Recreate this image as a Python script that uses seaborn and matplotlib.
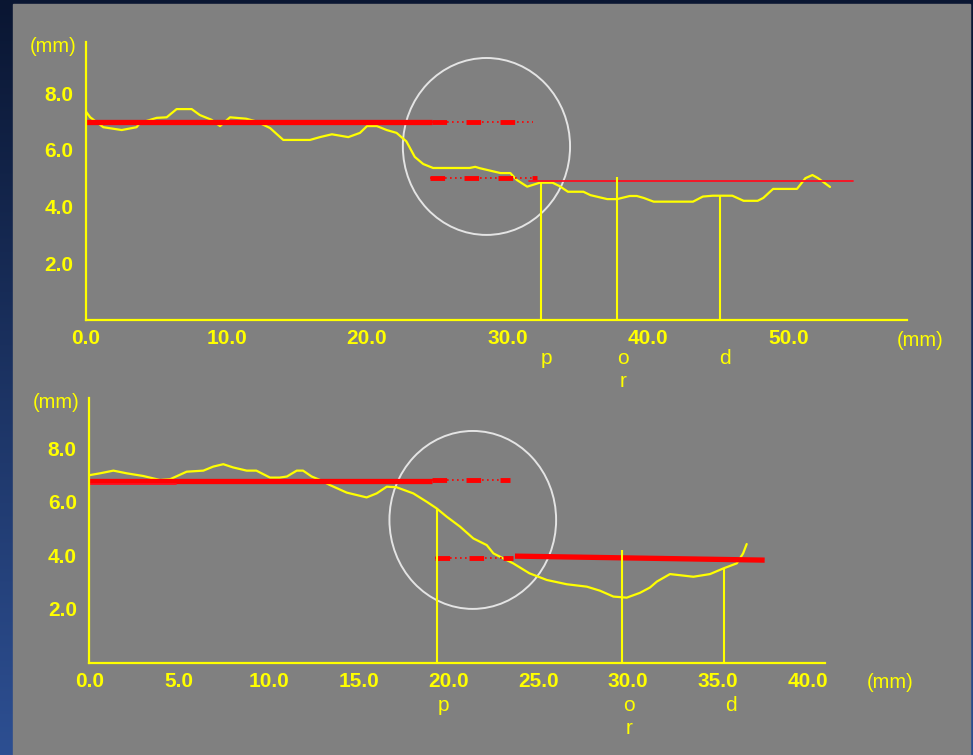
import numpy as np
import pandas as pd
import matplotlib
matplotlib.use("Agg")
import matplotlib.pyplot as plt
from matplotlib.patches import Ellipse, Rectangle
import seaborn as sns

# perfil superior (mm)
top_x = [0.0, 0.3, 1.23, 2.54, 3.6, 3.84, 5.03, 5.74, 6.45, 7.52, 8.1, 8.94, 9.54,
         10.25, 11.4, 12.15, 13.1, 14.04, 15.94, 16.65, 17.5, 18.67, 19.5, 20.0,
         20.7, 21.4, 22.1, 22.8, 23.4, 24.0, 24.7, 27.3, 27.7, 28.04, 29.5, 30.2,
         30.65, 31.4, 32.3, 33.2, 33.7, 34.3, 35.4, 35.9, 37.1, 37.8, 38.7, 39.2,
         39.7, 40.4, 43.2, 43.9, 44.6, 46.0, 46.8, 47.8, 48.2, 48.9, 50.6, 51.2,
         51.7, 52.1, 52.95]
top_y = [7.35, 7.15, 6.8, 6.7, 6.8, 6.95, 7.13, 7.15, 7.44, 7.44, 7.23, 7.06, 6.84,
         7.15, 7.1, 7.0, 6.77, 6.35, 6.35, 6.45, 6.55, 6.45, 6.6, 6.84, 6.84, 6.7,
         6.6, 6.3, 5.75, 5.5, 5.36, 5.36, 5.4, 5.35, 5.18, 5.18, 4.94, 4.7, 4.84,
         4.84, 4.72, 4.52, 4.52, 4.4, 4.26, 4.26, 4.37, 4.37, 4.3, 4.17, 4.17, 4.35,
         4.38, 4.38, 4.2, 4.2, 4.3, 4.62, 4.62, 5.0, 5.11, 5.0, 4.69]

# perfil inferior (mm)
bot_x = [0.0, 0.6, 1.34, 2.08, 3.0, 3.94, 4.5, 5.42, 6.35, 6.9, 7.46, 8.0, 8.76,
         9.3, 10.06, 10.6, 11.0, 11.55, 11.9, 12.38, 12.85, 13.4, 14.33, 15.44,
         16.0, 16.56, 17.1, 18.04, 18.78, 19.34, 19.9, 20.64, 21.38, 22.13, 22.5,
         23.6, 24.5, 25.47, 26.58, 27.7, 28.43, 29.18, 29.92, 30.66, 31.22, 31.6,
         32.33, 33.63, 34.56, 35.3, 36.05, 36.4, 36.6]
bot_y = [6.99, 7.06, 7.16, 7.06, 6.96, 6.81, 6.84, 7.12, 7.16, 7.31, 7.4, 7.28,
         7.16, 7.16, 6.9, 6.9, 6.94, 7.16, 7.16, 6.94, 6.81, 6.62, 6.34, 6.16,
         6.31, 6.56, 6.54, 6.31, 6.0, 5.75, 5.44, 5.07, 4.63, 4.38, 4.07, 3.7,
         3.33, 3.08, 2.92, 2.83, 2.68, 2.46, 2.42, 2.6, 2.8, 3.02, 3.3, 3.2, 3.3,
         3.51, 3.7, 4.07, 4.42]

# marcadores p, r, d: posicion x y altura de la linea vertical
top_marks = ["p", "o\nr", "d"]
top_mark_x = [32.4, 37.8, 45.1]
top_mark_h = [4.84, 5.04, 4.38]
bot_marks = ["p", "o\nr", "d"]
bot_mark_x = [19.34, 29.64, 35.34]
bot_mark_h = [5.75, 4.2, 3.53]

# lineas de referencia rojas: (x0, x1, y0, y1)
top_solid = [(0.0, 24.6, 7.0, 7.0)]
top_dashed = [(24.6, 31.8, 7.0, 7.0), (24.5, 32.1, 5.0, 5.0)]
top_thin = [(31.5, 54.6, 4.9, 4.9)]
bot_solid = [(0.0, 19.1, 6.77, 6.77), (23.7, 37.6, 3.97, 3.82)]
bot_dashed = [(19.1, 23.4, 6.8, 6.8), (19.25, 23.6, 3.91, 3.91)]
bot_thin = [(0.0, 4.8, 6.66, 6.66)]

# circulos (centro x, centro y, ancho, alto) en mm
top_circle = (28.5, 6.12, 11.9, 6.25)
bot_circle = (21.35, 5.32, 9.28, 6.64)

YELLOW = "#ffff00"
RED = "#ff0000"
GRAY = "#808080"

sns.set_theme(style="white")
plt.rcParams["font.family"] = ["Liberation Sans", "DejaVu Sans"]

W, H = 973, 755
fig = plt.figure(figsize=(W / 100, H / 100), dpi=100)

# fondo azul con degradado y panel gris
bg = fig.add_axes([0, 0, 1, 1], zorder=-10)
grad = np.linspace(0, 1, 256).reshape(-1, 1)
cmap = matplotlib.colors.LinearSegmentedColormap.from_list("bg", ["#0a1632", "#2d4f92"])
bg.imshow(grad, aspect="auto", cmap=cmap, extent=[0, 1, 0, 1])
bg.add_patch(Rectangle((13 / W, 0), (970 - 13) / W, (H - 4) / H, color=GRAY, transform=bg.transAxes))
bg.set_axis_off()


def make_axes(left, right, top, bottom):
    return fig.add_axes([left / W, 1 - bottom / H, (right - left) / W, (bottom - top) / H])


def style_axes(ax, xticks, xlim, ylim):
    ax.set_facecolor("none")
    ax.set_xlim(*xlim)
    ax.set_ylim(*ylim)
    for s in ["top", "right"]:
        ax.spines[s].set_visible(False)
    for s in ["left", "bottom"]:
        ax.spines[s].set_color(YELLOW)
        ax.spines[s].set_linewidth(1.6)
    ax.set_xticks(xticks)
    ax.set_xticklabels([f"{t:.1f}" for t in xticks])
    ax.set_yticks([2, 4, 6, 8])
    ax.set_yticklabels(["2.0", "4.0", "6.0", "8.0"])
    ax.tick_params(colors=YELLOW, length=5, width=1.5, direction="out", labelsize=15)
    ax.tick_params(axis="x", pad=2)
    ax.tick_params(axis="y", pad=4)
    for lab in ax.get_xticklabels() + ax.get_yticklabels():
        lab.set_fontweight("bold")
    ax.set_xlabel("")
    ax.set_ylabel("")
    ax.grid(False)


def draw_panel(ax, xs, ys, marks, mark_x, mark_h, solid, dashed, thin, circle, lab_y):
    df = pd.DataFrame({"x": xs, "y": ys})
    sns.lineplot(data=df, x="x", y="y", ax=ax, color=YELLOW, lw=1.6, sort=False, estimator=None)
    for (x0, x1, y0, y1) in solid:
        ax.plot([x0, x1], [y0, y1], color=RED, lw=3.8, solid_capstyle="butt")
    for (x0, x1, y0, y1) in dashed:
        ax.plot([x0, x1], [y0, y1], color=RED, lw=1.2, ls=(0, (1, 2)))
        ax.plot([x0, x1], [y0, y1], color=RED, lw=3.5, ls=(0, (3, 4)), solid_capstyle="butt")
    for (x0, x1, y0, y1) in thin:
        ax.plot([x0, x1], [y0, y1], color="#ff1020", lw=1.3)
    for m, x, h in zip(marks, mark_x, mark_h):
        ax.vlines(x, 0, h, color=YELLOW, lw=1.5)
        ax.text(x + 0.4, lab_y, m, color=YELLOW, fontsize=15, ha="center", va="top",
                linespacing=1.3, transform=ax.get_xaxis_transform())
    cx, cy, cw, ch = circle
    ax.add_patch(Ellipse((cx, cy), cw, ch, fill=False, ec="#e4e4e4", lw=1.4, clip_on=False))


# grafico superior
ax1 = make_axes(86, 907, 42, 319.7)
draw_panel(ax1, top_x, top_y, top_marks, top_mark_x, top_mark_h,
           top_solid, top_dashed, top_thin, top_circle, -0.105)
style_axes(ax1, [0, 10, 20, 30, 40, 50], (0, 58.43), (0, 9.81))
fig.text(53 / W, 1 - 47 / H, "(mm)", color=YELLOW, fontsize=14.5, ha="center", va="center")
fig.text(920 / W, 1 - 340 / H, "(mm)", color=YELLOW, fontsize=14.5, ha="center", va="center")

# grafico inferior
ax2 = make_axes(89.3, 825, 398, 662.5)
draw_panel(ax2, bot_x, bot_y, bot_marks, bot_mark_x, bot_mark_h,
           bot_solid, bot_dashed, bot_thin, bot_circle, -0.125)
style_axes(ax2, [0, 5, 10, 15, 20, 25, 30, 35, 40], (0, 40.96), (0, 9.87))
fig.text(56 / W, 1 - 403 / H, "(mm)", color=YELLOW, fontsize=14.5, ha="center", va="center")
fig.text(890 / W, 1 - 683 / H, "(mm)", color=YELLOW, fontsize=14.5, ha="center", va="center")

fig.savefig("out.png", dpi=100, facecolor="#0a1632")
